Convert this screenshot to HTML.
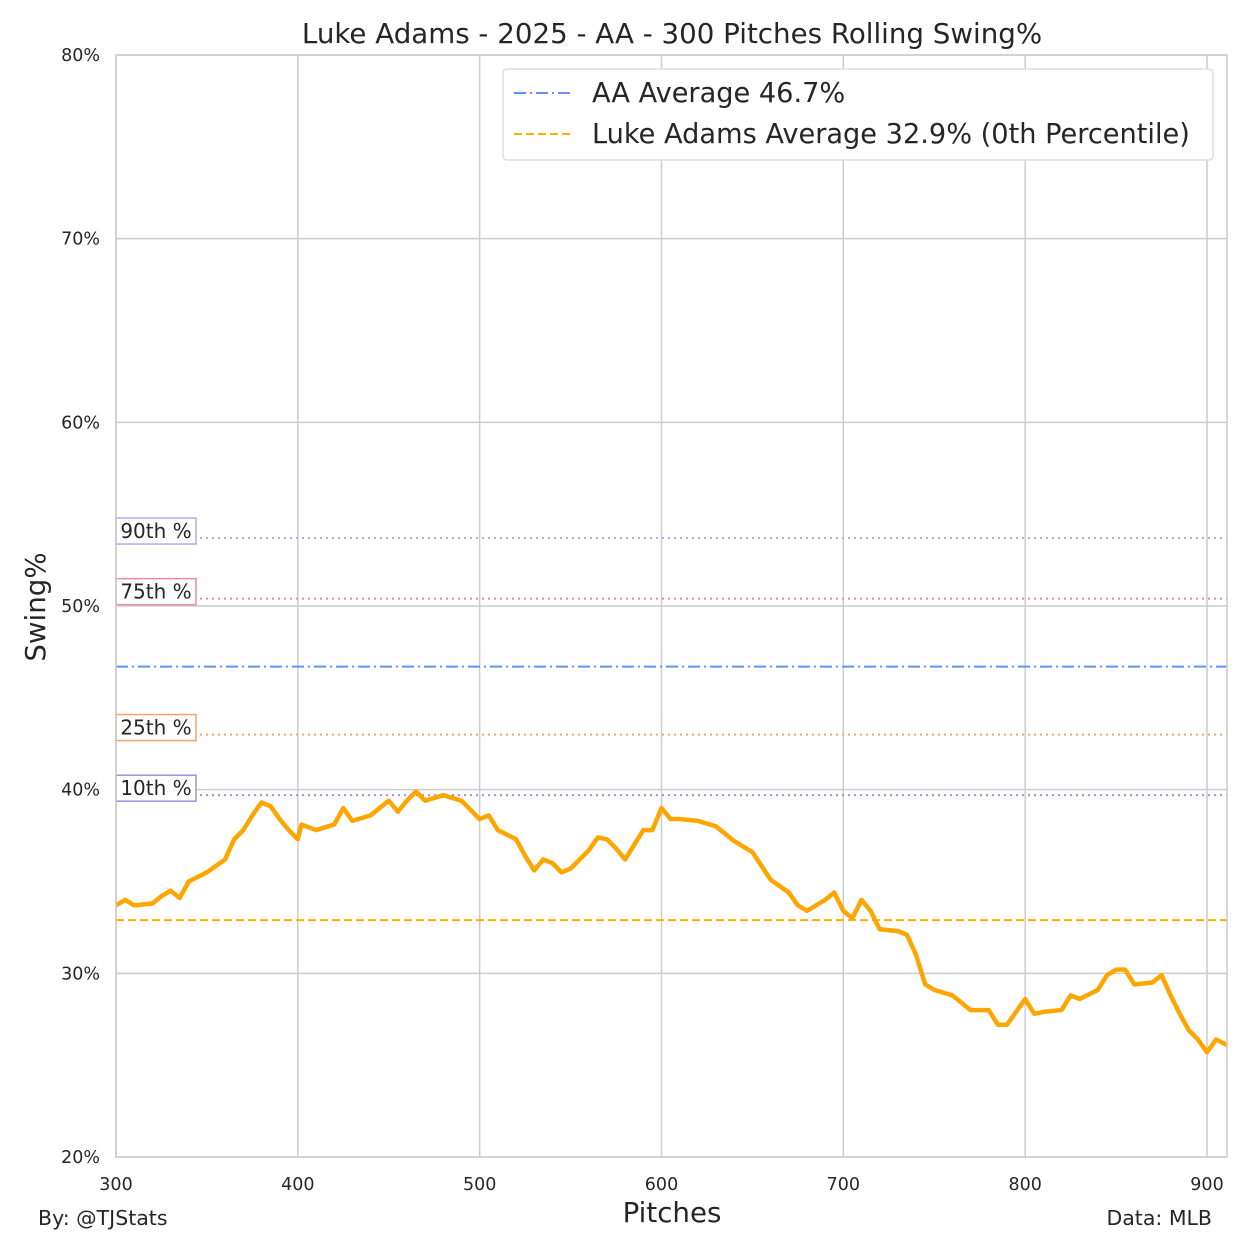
<!DOCTYPE html>
<html><head><meta charset="utf-8"><style>
body{margin:0;background:#fff;font-family:"Liberation Sans","DejaVu Sans",sans-serif}
svg text{font-family:"DejaVu Sans","Liberation Sans",sans-serif;fill:#262626}
</style></head><body>
<svg id="chart" width="1250" height="1250" xmlns="http://www.w3.org/2000/svg">
<rect width="1250" height="1250" fill="#fff"/>
<g id="grid"></g>
<g id="refs"></g>
<g id="series"></g>
<rect x="116" y="55" width="1111" height="1102" fill="none" stroke="#ccc" stroke-width="1.5"/>
<g id="ticks"></g>
<text x="672" y="43" font-size="27.7" text-anchor="middle">Luke Adams - 2025 - AA - 300 Pitches Rolling Swing%</text>
<text x="672" y="1222" font-size="27.7" text-anchor="middle">Pitches</text>
<text transform="translate(45,607) rotate(-90)" font-size="27.7" text-anchor="middle">Swing%</text>
<text x="38" y="1225" font-size="20.5">By: @TJStats</text>
<text x="1212" y="1225" font-size="20.5" text-anchor="end">Data: MLB</text>
<g>
<rect x="503" y="69" width="710" height="91" rx="4" fill="#fff" stroke="#ddd" stroke-width="1.5"/>
<line x1="514" y1="93" x2="572" y2="93" stroke="#648FFF" stroke-width="2" stroke-dasharray="12,4,2,4"/>
<text x="592" y="102" font-size="27.2">AA Average 46.7%</text>
<line x1="514" y1="134" x2="572" y2="134" stroke="#FFB000" stroke-width="2" stroke-dasharray="8,4"/>
<text x="592" y="143" font-size="27.2">Luke Adams Average 32.9% (0th Percentile)</text>
</g>
</svg>
<script>
const xTicks=[300,400,500,600,700,800,900];
const yTicks=[20,30,40,50,60,70,80];
const pitches=[300,305,310,320,325,330,335,340,350,360,365,370,375,380,385,390,395,400,402,410,420,425,430,440,445,450,455,460,465,470,480,490,495,500,505,510,520,525,530,535,540,545,550,560,565,570,575,580,590,595,600,605,610,620,630,640,650,660,670,675,680,690,695,700,705,710,715,720,730,735,740,745,750,760,770,780,785,790,800,805,810,820,825,830,840,845,850,855,860,870,875,880,885,890,895,900,905,911];
const swing=[33.7,34.0,33.7,33.8,34.2,34.5,34.1,35.0,35.5,36.2,37.3,37.8,38.6,39.3,39.1,38.4,37.8,37.3,38.1,37.8,38.1,39.0,38.3,38.6,39.0,39.4,38.8,39.4,39.9,39.4,39.7,39.4,38.9,38.4,38.6,37.8,37.3,36.4,35.6,36.2,36.0,35.5,35.7,36.7,37.4,37.3,36.8,36.2,37.8,37.8,39.0,38.4,38.4,38.3,38.0,37.2,36.6,35.1,34.4,33.7,33.4,34.0,34.4,33.4,33.0,34.0,33.4,32.4,32.3,32.1,31.0,29.4,29.1,28.8,28.0,28.0,27.2,27.2,28.6,27.8,27.9,28.0,28.8,28.6,29.1,29.9,30.2,30.2,29.4,29.5,29.9,28.8,27.8,26.9,26.4,25.7,26.4,26.1];
const refValues=[53.7,50.4,46.7,43.0,39.7,32.9];
const refLabels=["90th %","75th %","","25th %","10th %",""];
const refColors=["#b4a7f0","#e88aa8","#648FFF","#f9a36b","#9c8fe0","#FFB000"];
const refDash=["2,4","2,4","12,4,2,4","2,4","2,4","8,4"];
const X=v=>116+(v-300)*1091/600;
const Y=v=>1157-(v-20)*1102/60;
const NS="http://www.w3.org/2000/svg";
function mk(t,a,p){const e=document.createElementNS(NS,t);for(const k in a)e.setAttribute(k,a[k]);p.appendChild(e);return e;}
const grid=document.getElementById('grid'),ticks=document.getElementById('ticks');
xTicks.forEach(v=>{const l=mk('line',{x1:X(v),x2:X(v),y1:55,y2:1157,stroke:'#ccc','stroke-width':1.5},grid);


const t=mk('text',{x:X(v),y:1190,'font-size':17.5,'text-anchor':'middle'},ticks);t.textContent=v;

});
yTicks.forEach(v=>{const l=mk('line',{x1:116,x2:1227,y1:Y(v),y2:Y(v),stroke:'#ccc','stroke-width':1.5},grid);


const t=mk('text',{x:100,y:Y(v)+6,'font-size':17.5,'text-anchor':'end'},ticks);t.textContent=v+'%';

});
const refs=document.getElementById('refs');
refValues.forEach((v,i)=>{const l=mk('line',{x1:116,x2:1227,y1:Y(v),y2:Y(v),stroke:refColors[i],'stroke-width':2,'stroke-dasharray':refDash[i]},refs);


if(refLabels[i]){const r=mk('rect',{x:116,y:Y(v)-20,width:80,height:26,fill:'#fff',stroke:refColors[i],'stroke-width':1.5},refs);


const t=mk('text',{x:156,y:Y(v)+0,'font-size':20,'text-anchor':'middle'},refs);t.textContent=refLabels[i];

}});
const p=mk('polyline',{points:pitches.map((x,i)=>X(x)+','+Y(swing[i])).join(' '),fill:'none',stroke:'#FFA500','stroke-width':4.5,'stroke-linejoin':'round'},document.getElementById('series'));


</script>
</body></html>
